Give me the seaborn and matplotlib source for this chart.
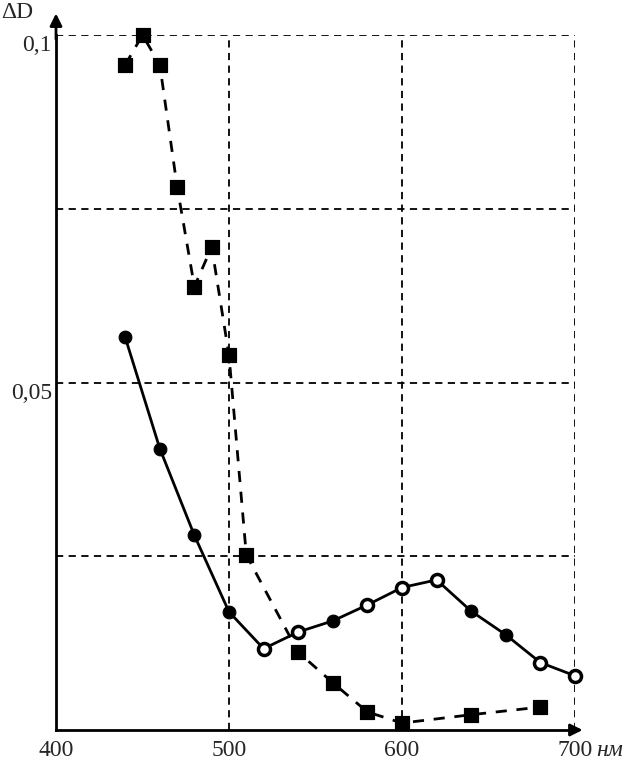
import numpy as np
import pandas as pd
import seaborn as sns
import matplotlib.pyplot as plt

# wavelength, nm / optical density change
WL_SQUARE = [440, 450, 460, 470, 480, 490, 500, 510, 540, 560, 580, 600, 640, 680]
DD_SQUARE = [0.0957, 0.1, 0.0957, 0.0782, 0.0638, 0.0695, 0.0539, 0.0252,
             0.0112, 0.0068, 0.0026, 0.0010, 0.0022, 0.0033]

WL_CIRCLE = [440, 460, 480, 500, 520, 540, 560, 580, 600, 620, 640, 660, 680, 700]
DD_CIRCLE = [0.0565, 0.0405, 0.0280, 0.0170, 0.0117, 0.0141, 0.0157, 0.0180,
             0.0205, 0.0216, 0.0171, 0.0137, 0.0097, 0.0078]
CIRCLE_FILLED = [True, True, True, True, False, False, True, False,
                 False, False, True, True, False, False]

X_TICKS = [400, 500, 600, 700]
X_LABELS = ["400", "500", "600", "700"]
Y_TICKS = [0.025, 0.05, 0.075, 0.1]
Y_LABELS = ["", "0,05", "", "0,1"]

sns.set_style("white")
plt.rcParams["font.family"] = ["Liberation Serif", "DejaVu Serif"]

sq = pd.DataFrame({"wl": WL_SQUARE, "dd": DD_SQUARE})
ci = pd.DataFrame({"wl": WL_CIRCLE, "dd": DD_CIRCLE, "filled": CIRCLE_FILLED})

fig = plt.figure(figsize=(6.34, 7.65), dpi=100)
ax = fig.add_axes([56 / 634, 1 - 730 / 765, (575 - 56) / 634, (730 - 35) / 765])

# grid
for x in X_TICKS[1:]:
    ax.axvline(x, color="black", lw=1.3, ls=(0, (4, 3)), zorder=1)
for y in Y_TICKS:
    ax.axhline(y, color="black", lw=1.3, ls=(0, (4, 3)), zorder=1)

sns.lineplot(data=sq, x="wl", y="dd", ax=ax, color="black", lw=2,
             linestyle=(0, (4, 3.5)), zorder=2)
sns.scatterplot(data=sq, x="wl", y="dd", ax=ax, marker="s", s=115,
                color="black", edgecolor="black", zorder=3, clip_on=False)

sns.lineplot(data=ci, x="wl", y="dd", ax=ax, color="black", lw=2, zorder=2)
sns.scatterplot(data=ci[ci["filled"]], x="wl", y="dd", ax=ax, marker="o", s=85,
                color="black", edgecolor="black", zorder=3, clip_on=False)
sns.scatterplot(data=ci[~ci["filled"]], x="wl", y="dd", ax=ax, marker="o", s=75,
                facecolor="white", edgecolor="black", linewidth=2.5, zorder=3,
                clip_on=False)

ax.set_xlim(400, 700)
ax.set_ylim(0, 0.1)
ax.set_xticks(X_TICKS)
ax.set_xticklabels(X_LABELS, fontsize=17)
ax.set_yticks(Y_TICKS)
ax.set_yticklabels(Y_LABELS, fontsize=17, va="top")
ax.tick_params(axis="x", length=0, pad=7)
ax.tick_params(axis="y", length=0, pad=3)
ax.set_xlabel("")
ax.set_ylabel("")

for s in ["top", "right"]:
    ax.spines[s].set_visible(False)
for s in ["left", "bottom"]:
    ax.spines[s].set_linewidth(2)
    ax.spines[s].set_color("black")

# axis arrows
ax.annotate("", xy=(400, 0.1035), xytext=(400, 0.099), annotation_clip=False,
            arrowprops=dict(arrowstyle="-|>", color="black", lw=2, mutation_scale=18))
ax.annotate("", xy=(706, 0), xytext=(698, 0), annotation_clip=False,
            arrowprops=dict(arrowstyle="-|>", color="black", lw=2, mutation_scale=18))

fig.text(1 / 634, 1 - 13 / 765, "ΔD", fontsize=17, va="center", ha="left")
ax.text(712, -0.0015, "нм", fontsize=17, style="italic", va="top", ha="left",
        transform=ax.transData, clip_on=False)

fig.savefig("out.png", dpi=100)
